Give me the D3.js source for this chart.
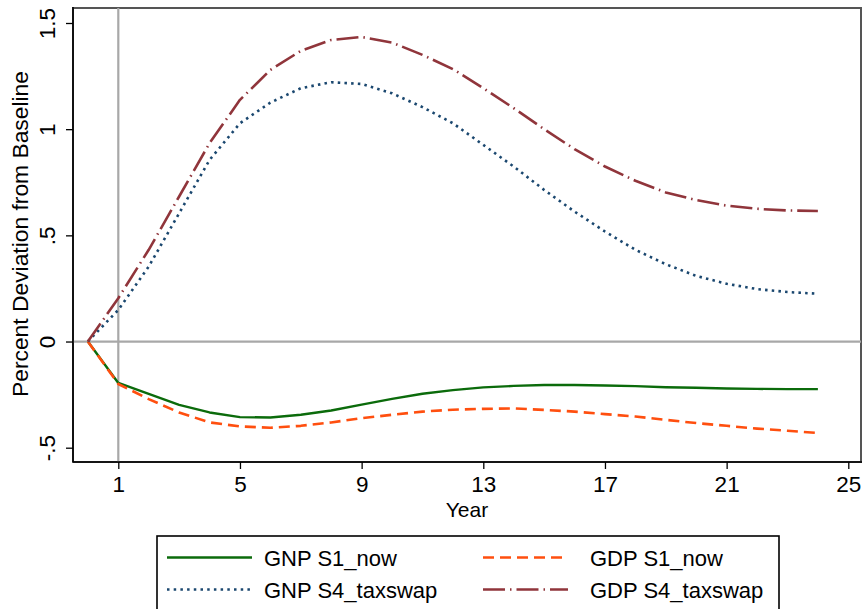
<!DOCTYPE html>
<html>
<head>
<meta charset="utf-8">
<script src="https://cdn.jsdelivr.net/npm/d3@7/dist/d3.min.js"></script>
<style>
  html, body { margin: 0; padding: 0; background: #fff; }
  svg { display: block; }
  text { font-family: "Liberation Sans", Arial, Helvetica, sans-serif; fill: #000; }
</style>
</head>
<body>
<svg id="chart" width="865" height="609"></svg>
<script>
// Years after the policy change
const years = d3.range(0, 25);

// Percent deviation from baseline, one value per year
const gnpS1now = [0, -0.195, -0.246, -0.298, -0.334, -0.356, -0.358, -0.345, -0.325, -0.297,
  -0.270, -0.246, -0.229, -0.216, -0.209, -0.205, -0.205, -0.207, -0.210, -0.215,
  -0.218, -0.221, -0.223, -0.224, -0.224];
const gdpS1now = [0, -0.200, -0.271, -0.334, -0.381, -0.400, -0.406, -0.397, -0.381, -0.361,
  -0.345, -0.330, -0.321, -0.317, -0.315, -0.322, -0.330, -0.342, -0.353, -0.369,
  -0.384, -0.397, -0.410, -0.420, -0.431];
const gnpS4taxswap = [0, 0.149, 0.353, 0.604, 0.855, 1.028, 1.125, 1.193, 1.221, 1.213,
  1.169, 1.104, 1.028, 0.926, 0.824, 0.714, 0.612, 0.518, 0.432, 0.364,
  0.309, 0.272, 0.247, 0.233, 0.225];
const gdpS4taxswap = [0, 0.204, 0.432, 0.683, 0.934, 1.138, 1.279, 1.369, 1.420, 1.434,
  1.408, 1.350, 1.283, 1.193, 1.099, 1.000, 0.906, 0.824, 0.757, 0.702,
  0.666, 0.640, 0.625, 0.617, 0.615];

const xTicks = [1, 5, 9, 13, 17, 21, 25];
const yTicks = [-0.5, 0, 0.5, 1, 1.5];
const yTickLabels = ["-.5", "0", ".5", "1", "1.5"];

const seriesNames = ["GNP S1_now", "GDP S1_now", "GNP S4_taxswap", "GDP S4_taxswap"];
const seriesValues = [gnpS1now, gdpS1now, gnpS4taxswap, gdpS4taxswap];
const seriesColors = ["#0b6b0b", "#ff4f0f", "#1a476f", "#90353b"];
const seriesDash = [null, "11,6", "2.5,4.2", "22,5,1.5,5"];
const seriesWidth = [2.4, 2.6, 2.6, 2.6];

const svg = d3.select("#chart");

// Plot region
const plotLeft = 73, plotRight = 861, plotTop = 8, plotBottom = 462;

const x = d3.scaleLinear().domain([1, 25]).range([118.3, 848.3]);
const y = d3.scaleLinear().domain([-0.5, 1.5]).range([447.7, 23]);

// Frame of the plot region
svg.append("rect")
  .attr("x", plotLeft).attr("y", plotTop)
  .attr("width", plotRight - plotLeft).attr("height", plotBottom - plotTop)
  .attr("fill", "#fff")
  .attr("stroke", "#555").attr("stroke-width", 2);

// Reference lines at y = 0 and year 1
svg.append("line")
  .attr("x1", plotLeft).attr("x2", plotRight)
  .attr("y1", y(0)).attr("y2", y(0))
  .attr("stroke", "#a8a8a8").attr("stroke-width", 2.2);
svg.append("line")
  .attr("x1", x(1)).attr("x2", x(1))
  .attr("y1", plotTop).attr("y2", plotBottom)
  .attr("stroke", "#a8a8a8").attr("stroke-width", 2.2);

// Axes
const xAxis = d3.axisBottom(x).tickValues(xTicks).tickSize(7).tickPadding(4)
  .tickFormat(d3.format("d"));
const gx = svg.append("g").attr("transform", `translate(0,${plotBottom})`).call(xAxis);
gx.select(".domain").remove();
gx.append("line").attr("x1", plotLeft).attr("x2", plotRight + 1).attr("y1", 0).attr("y2", 0)
  .attr("stroke", "#000").attr("stroke-width", 1.6);
gx.selectAll(".tick line").attr("stroke", "#000").attr("stroke-width", 1.3);
gx.selectAll(".tick text").attr("font-size", 22.5).attr("dy", "0.86em").attr("fill", "#000");

const yAxis = d3.axisLeft(y).tickValues(yTicks).tickSize(7)
  .tickFormat((d, i) => yTickLabels[i]);
const gy = svg.append("g").attr("transform", `translate(${plotLeft},0)`).call(yAxis);
gy.select(".domain").remove();
gy.append("line").attr("x1", 0).attr("x2", 0).attr("y1", plotTop - 1).attr("y2", plotBottom)
  .attr("stroke", "#000").attr("stroke-width", 1.6);
gy.selectAll(".tick line").attr("stroke", "#000").attr("stroke-width", 1.3);
gy.selectAll(".tick text")
  .attr("font-size", 22.5)
  .attr("text-anchor", "middle")
  .attr("x", null).attr("dy", null)
  .attr("transform", "translate(-18,0) rotate(-90)")
  .attr("fill", "#000");

// Axis titles
svg.append("text")
  .attr("x", (plotLeft + plotRight) / 2).attr("y", 517)
  .attr("text-anchor", "middle")
  .attr("font-size", 21)
  .text("Year");
svg.append("text")
  .attr("transform", "translate(28,234) rotate(-90)")
  .attr("text-anchor", "middle")
  .attr("font-size", 22)
  .attr("textLength", 326)
  .attr("lengthAdjust", "spacingAndGlyphs")
  .text("Percent Deviation from Baseline");

// Series lines
const line = d3.line().x((d, i) => x(years[i])).y(d => y(d));
const plot = svg.append("g");
seriesValues.forEach((vals, k) => {
  plot.append("path")
    .datum(vals)
    .attr("d", line)
    .attr("fill", "none")
    .attr("stroke", seriesColors[k])
    .attr("stroke-width", seriesWidth[k])
    .attr("stroke-dasharray", seriesDash[k])
    .attr("stroke-linejoin", "round");
});

// Legend
const lg = svg.append("g");
lg.append("rect")
  .attr("x", 157).attr("y", 536)
  .attr("width", 622).attr("height", 90)
  .attr("fill", "#fff")
  .attr("stroke", "#000").attr("stroke-width", 1.6);

const legendPos = [
  { sx: 167, tx: 264, ly: 557.5 },
  { sx: 483, tx: 590, ly: 557.5 },
  { sx: 167, tx: 264, ly: 589.5 },
  { sx: 483, tx: 590, ly: 589.5 }
];
seriesNames.forEach((name, k) => {
  const p = legendPos[k];
  lg.append("line")
    .attr("x1", p.sx).attr("x2", p.sx + 85)
    .attr("y1", p.ly).attr("y2", p.ly)
    .attr("stroke", seriesColors[k])
    .attr("stroke-width", seriesWidth[k])
    .attr("stroke-dasharray", seriesDash[k]);
  lg.append("text")
    .attr("x", p.tx).attr("y", p.ly + 8.5)
    .attr("font-size", 22)
    .text(name);
});
</script>
</body>
</html>
